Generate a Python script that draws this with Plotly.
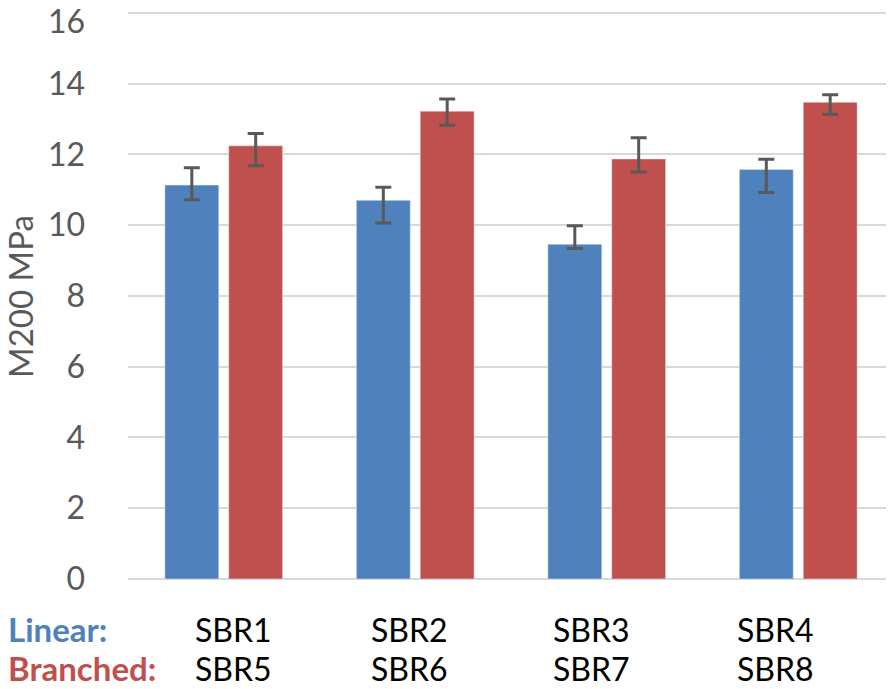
import plotly.graph_objects as go

categories = ["SBR1", "SBR2", "SBR3", "SBR4"]
branched_names = ["SBR5", "SBR6", "SBR7", "SBR8"]
linear = [11.13, 10.70, 9.46, 11.57]
linear_plus = [0.49, 0.37, 0.52, 0.29]
linear_minus = [0.41, 0.64, 0.12, 0.65]
branched = [12.24, 13.22, 11.87, 13.47]
branched_plus = [0.35, 0.34, 0.60, 0.21]
branched_minus = [0.56, 0.40, 0.37, 0.34]
y_ticks = [0, 2, 4, 6, 8, 10, 12, 14, 16]

W, H = 894, 689
OFF = 8  # page body margin offset
L, R, T, B = 120, 8, 3, 118
PW, PH = W - L - R, H - T - B

def px_x(px):
    return (px - OFF - L) / PW

def px_y(py):
    return (H - B - (py - OFF)) / PH

FONT = "Lato"
BLUE = "#4F81BD"
RED = "#C0504D"
ERR = "#595959"
GREY = "#595959"

fig = go.Figure()
fig.add_trace(go.Bar(
    x=categories, y=linear, name="Linear", marker=dict(color=BLUE),
    error_y=dict(type="data", symmetric=False, array=linear_plus, arrayminus=linear_minus,
                 color=ERR, thickness=3, width=8),
))
fig.add_trace(go.Bar(
    x=categories, y=branched, name="Branched", marker=dict(color=RED),
    error_y=dict(type="data", symmetric=False, array=branched_plus, arrayminus=branched_minus,
                 color=ERR, thickness=3, width=8),
))

label_px = [233, 409, 591, 775]
lab_font = dict(family=FONT, size=32, color="black")
annotations = []
for lab, px in zip(categories, label_px):
    annotations.append(dict(x=px_x(px), y=px_y(629), xref="paper", yref="paper", text=lab,
                            showarrow=False, xanchor="center", yanchor="middle", font=lab_font))
for lab, px in zip(branched_names, label_px):
    annotations.append(dict(x=px_x(px), y=px_y(668), xref="paper", yref="paper", text=lab,
                            showarrow=False, xanchor="center", yanchor="middle", font=lab_font))
annotations.append(dict(x=px_x(7), y=px_y(629), xref="paper", yref="paper", text="<b>Linear:</b>",
                        showarrow=False, xanchor="left", yanchor="middle", borderpad=0,
                        font=dict(family=FONT, size=33, color=BLUE)))
annotations.append(dict(x=px_x(7), y=px_y(668), xref="paper", yref="paper", text="<b>Branched:</b>",
                        showarrow=False, xanchor="left", yanchor="middle", borderpad=0,
                        font=dict(family=FONT, size=33, color=RED)))
annotations.append(dict(x=px_x(20), y=px_y(296), xref="paper", yref="paper", text="M200 MPa",
                        showarrow=False, xanchor="center", yanchor="middle", textangle=-90,
                        font=dict(family=FONT, size=33, color=GREY)))
# top tick label, kept inside the page so it is not cut
annotations.append(dict(x=px_x(86), y=px_y(20), xref="paper", yref="paper", text=str(y_ticks[-1]),
                        showarrow=False, xanchor="right", yanchor="middle", borderpad=0,
                        font=dict(family=FONT, size=32, color=GREY)))

tick_text = [str(v) for v in y_ticks[:-1]] + [""]

fig.update_layout(
    width=W, height=H,
    margin=dict(l=L, r=R, t=T, b=B, autoexpand=False),
    paper_bgcolor="white", plot_bgcolor="white",
    barmode="group", bargap=0.333, bargroupgap=0.156,
    showlegend=False,
    annotations=annotations,
    font=dict(family=FONT, color=GREY),
)
fig.update_xaxes(showticklabels=False, showgrid=False, zeroline=False, showline=False, automargin=False)
fig.update_yaxes(range=[0, 16.05], tickvals=y_ticks, ticktext=tick_text, showgrid=True,
                 gridcolor="#D9D9D9", gridwidth=2,
                 zeroline=True, zerolinecolor="#D9D9D9", zerolinewidth=2, automargin=False,
                 tickfont=dict(family=FONT, size=32, color=GREY),
                 ticklabelstandoff=42, ticklabeloverflow="allow")

fig.write_html("out.html")
